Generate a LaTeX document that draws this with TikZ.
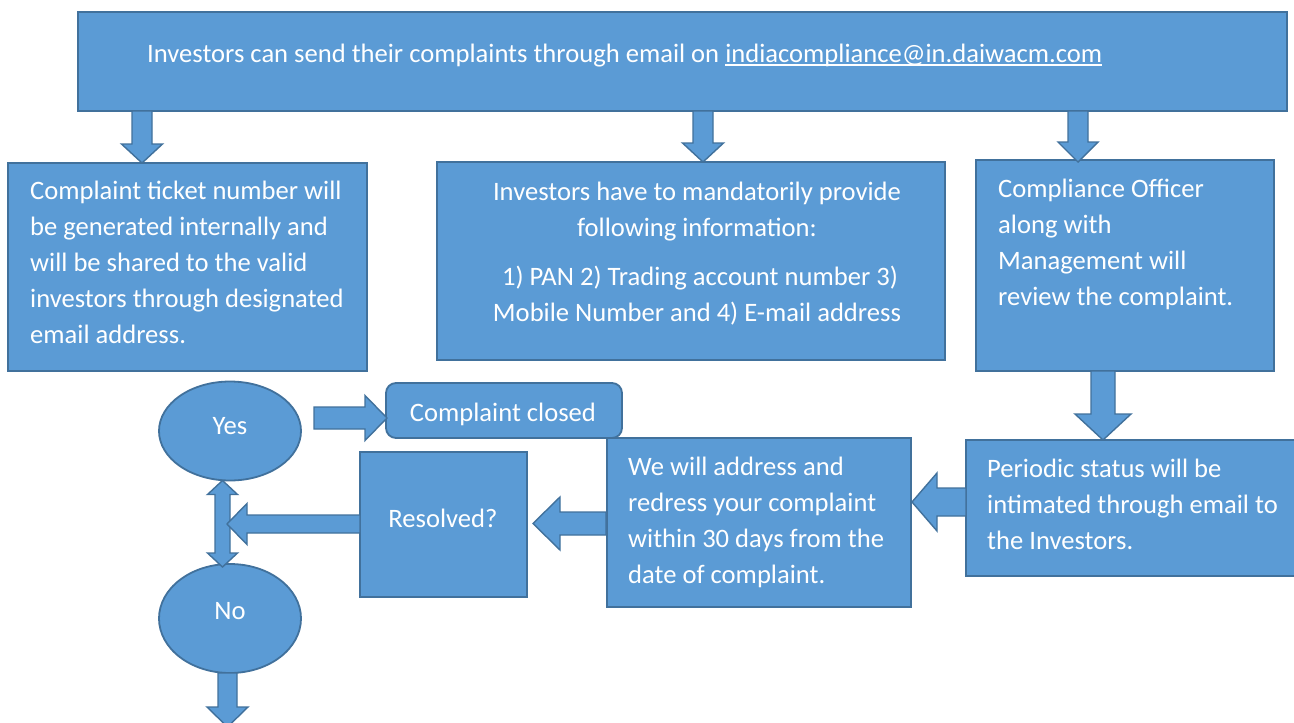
\documentclass[tikz,border=0pt]{standalone}
\usepackage{fontspec}
\setmainfont{Carlito}
\usetikzlibrary{calc,shapes.geometric}

\definecolor{boxfill}{HTML}{5B9BD5}
\definecolor{boxline}{HTML}{41719C}

% underline that sits just below the baseline, as in a word processor
\newcommand\mailul[1]{\setbox0\hbox{#1}\rlap{\rule[-3.5pt]{\wd0}{1.4pt}}\box0}

% block arrow: #1 start, #2 tip, #3 shaft half-width, #4 head half-width, #5 head length
\newcommand\blockarrow[5]{%
  \path #1 coordinate (ba-s) #2 coordinate (ba-e);
  \path ($(ba-e)!#5!(ba-s)$) coordinate (ba-h);
  \draw[arrowbody] ($(ba-s)!#3!90:(ba-e)$) -- ($(ba-h)!#3!90:(ba-e)$)
    -- ($(ba-h)!#4!90:(ba-e)$) -- (ba-e) -- ($(ba-h)!#4!-90:(ba-e)$)
    -- ($(ba-h)!#3!-90:(ba-e)$) -- ($(ba-s)!#3!-90:(ba-e)$) -- cycle;
}
% double-headed block arrow: #1 first tip, #2 second tip, #3 shaft half-width, #4 head half-width, #5 head length
\newcommand\dblblockarrow[5]{%
  \path #1 coordinate (da-s) #2 coordinate (da-e);
  \path ($(da-s)!#5!(da-e)$) coordinate (da-h1) ($(da-e)!#5!(da-s)$) coordinate (da-h2);
  \draw[arrowbody] (da-s) -- ($(da-h1)!#4!90:(da-e)$) -- ($(da-h1)!#3!90:(da-e)$)
    -- ($(da-h2)!#3!-90:(da-s)$) -- ($(da-h2)!#4!-90:(da-s)$) -- (da-e)
    -- ($(da-h2)!#4!90:(da-s)$) -- ($(da-h2)!#3!90:(da-s)$)
    -- ($(da-h1)!#3!-90:(da-e)$) -- ($(da-h1)!#4!-90:(da-e)$) -- cycle;
}

\tikzset{
  panel/.style={draw=boxline, fill=boxfill, line width=1.8pt, inner sep=0pt, outer sep=0pt, anchor=north west},
  oval/.style={ellipse, draw=boxline, fill=boxfill, line width=1.8pt, inner sep=0pt, outer sep=0pt},
  arrowbody/.style={draw=boxline, fill=boxfill, line width=1.4pt, line join=miter},
  txt/.style={text=white, inner sep=0pt, font=\fontsize{26.6}{36}\selectfont},
}

\begin{document}
\begin{tikzpicture}[x=1pt,y=-1pt]
\clip (0,0) rectangle (1294,723);
\fill[white] (0,0) rectangle (1294,723);

% boxes
\node[panel, minimum width=1209, minimum height=99] (top) at (78,12) {};
\node[panel, minimum width=359, minimum height=208] (b1) at (8,163) {};
\node[panel, minimum width=508, minimum height=198] (b2) at (437,162) {};
\node[panel, minimum width=298, minimum height=211] (b3) at (976,160) {};
\node[panel, minimum width=340, minimum height=136] (p) at (966,440) {};
\node[panel, minimum width=304, minimum height=169] (w) at (607,438) {};
\node[panel, minimum width=167, minimum height=145] (r) at (360,452) {};
\node[panel, rounded corners=10pt, minimum width=236, minimum height=55] (c) at (386,383) {};
\node[oval, minimum width=142, minimum height=99] (yes) at (230,431) {};
\node[oval, minimum width=142, minimum height=109] (no) at (230,618.5) {};

% texts (multi-line texts are anchored at the baseline of their last line)
\node[txt, anchor=base west] (ttop) at ($(top.north west)+(69,50)$)
  {Investors can send their complaints through email on \mailul{indiacompliance@in.daiwacm.com}};
\node[txt, anchor=base west, align=left] (tb1) at ($(b1.north west)+(22,180)$)
  {Complaint ticket number will\\be generated internally and\\will be shared to the valid\\investors through designated\\email address.};
\node[txt, anchor=base, align=center] (tb2) at ($(b2.north west)+(260,159)$)
  {Investors have to mandatorily provide\\following information:\\[13pt]\hspace*{6pt}1) PAN 2) Trading account number 3)\\Mobile Number and 4) E-mail address};
\node[txt, anchor=base west, align=left] (tb3) at ($(b3.north west)+(22,145)$)
  {Compliance Officer\\along with\\Management will\\review the complaint.};
\node[txt, anchor=base west, align=left] (tp) at ($(p.north west)+(21,109)$)
  {Periodic status will be\\intimated through email to\\the Investors.};
\node[txt, anchor=base west, align=left] (tw) at ($(w.north west)+(21,145)$)
  {We will address and\\redress your complaint\\within 30 days from the\\date of complaint.};
\node[txt, anchor=base] (tr) at ($(r.north west)+(83,75)$) {Resolved?};
\node[txt, anchor=base] (tc) at ($(c.north west)+(117,38)$) {Complaint closed};
\node[txt, anchor=base] (tyes) at ($(yes.center)+(0,3)$) {Yes};
\node[txt, anchor=base] (tno) at ($(no.center)+(0,0.5)$) {No};

% block arrows
\blockarrow{($(top.south west)+(64,0)$)}{($(b1.north west)+(134,0)$)}{10pt}{20.5pt}{19pt}
\blockarrow{($(top.south west)+(625,0)$)}{($(b2.north west)+(266,0)$)}{10pt}{20.5pt}{19pt}
\blockarrow{($(top.south west)+(1000,0)$)}{($(b3.north west)+(102,2)$)}{10pt}{20pt}{20pt}
\blockarrow{($(b3.south west)+(127,0)$)}{($(p.north west)+(137,0)$)}{12pt}{28pt}{26pt}
\blockarrow{($(p.north west)+(0,62)$)}{($(w.north east)+(1,64)$)}{14pt}{29pt}{25pt}
\blockarrow{($(w.north west)+(-1,85.5)$)}{($(r.north east)+(6,71.5)$)}{11.5pt}{26.5pt}{27pt}
\dblblockarrow{($(yes.south)+(-7.5,0)$)}{($(no.north)+(-7.5,3)$)}{7.5pt}{15pt}{14pt}
\blockarrow{($(r.north west)+(0,72)$)}{($(yes.south)+(-3,43.5)$)}{9pt}{20.5pt}{20pt}
\blockarrow{($(yes.east)+(13,-13)$)}{($(c.west)+(1,7.5)$)}{11pt}{22.5pt}{22pt}
\blockarrow{($(no.south)+(-2.5,0)$)}{($(no.south)+(-2.5,54)$)}{9.5pt}{20.5pt}{20pt}
\end{tikzpicture}
\end{document}
